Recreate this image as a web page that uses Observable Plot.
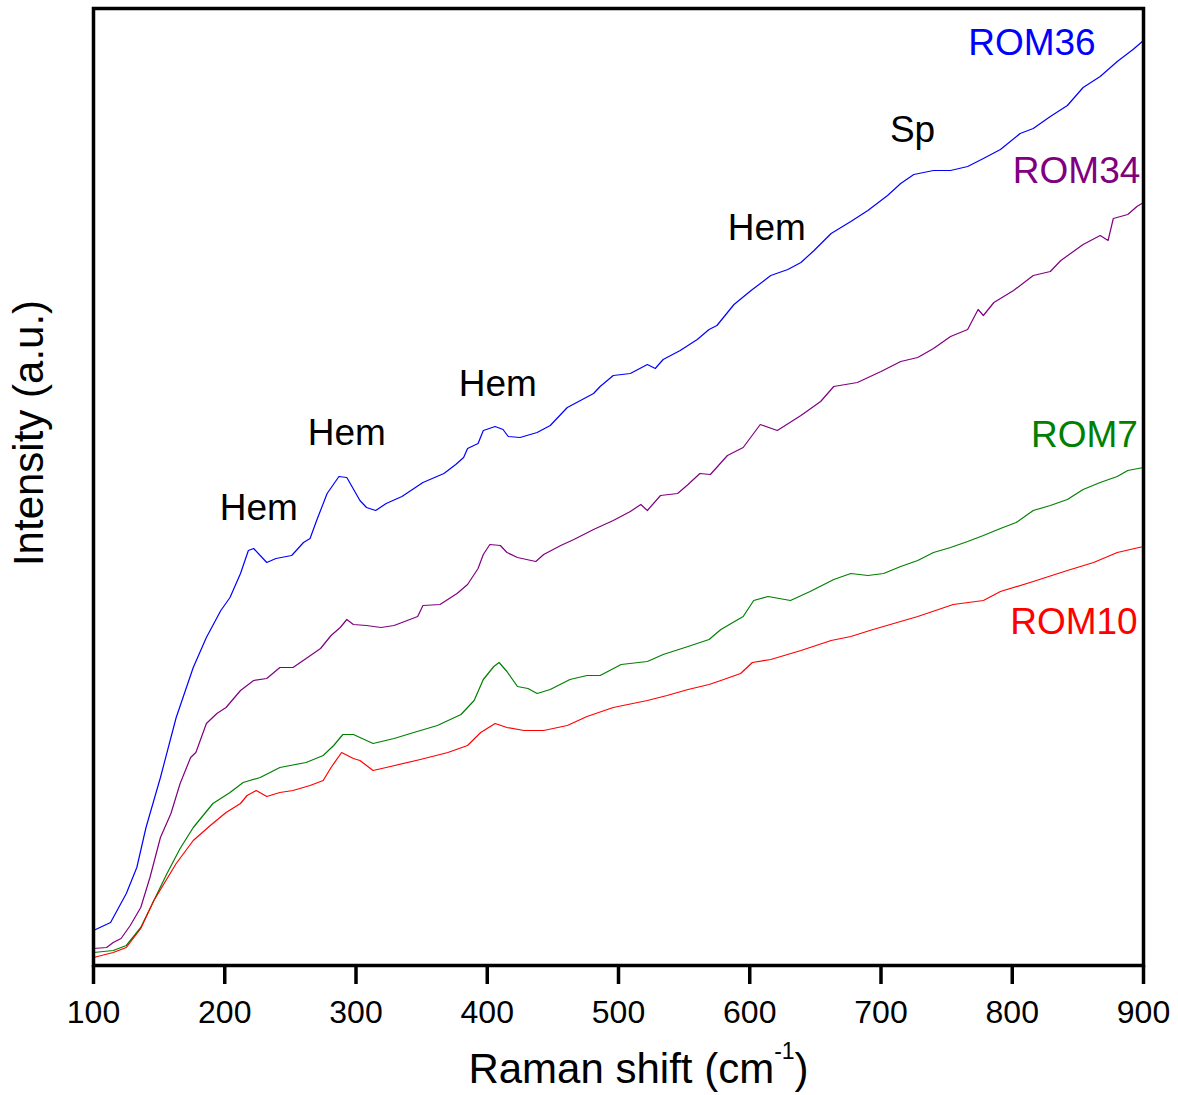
<!DOCTYPE html>
<html><head><meta charset="utf-8">
<script src="https://cdn.jsdelivr.net/npm/d3@7"></script>
<script src="https://cdn.jsdelivr.net/npm/@observablehq/plot@0.6"></script>
<style>
body{margin:0;background:#fff;}
svg{font-family:"Liberation Sans",Arial,sans-serif;}
</style>
</head><body><div id="chart"></div>
<script>
// Raman shift (cm-1), intensity (a.u.) pairs
const rom36 = [[100,35],[113,43],[125,72],[133,98],[140,138],[151,188],[163,248],[176,298],[186,328],[197,355],[204,368],[212,392],[218,415],[222,417],[232,403],[239,407],[251,410],[260,423],[265,427],[270,445],[278,472],[287,489],[293,488],[303,465],[308,458],[315,455],[323,462],[335,469],[351,483],[367,492],[376,501],[382,508],[385,517],[393,522],[397,535],[406,539],[412,536],[416,529],[425,528],[438,533],[448,540],[461,558],[471,565],[481,572],[486,579],[496,590],[509,592],[522,601],[528,597],[534,606],[547,615],[560,626],[569,636],[575,640],[588,661],[601,675],[616,690],[629,696],[639,703],[649,715],[662,732],[677,744],[690,755],[705,770],[715,782],[725,791],[740,795],[753,795],[766,799],[778,807],[791,816],[806,832],[816,837],[829,849],[842,860],[854,878],[867,889],[880,904],[892,916],[900,925]];
const rom34 = [[100,17],[110,18],[115,23],[121,27],[128,40],[136,58],[143,88],[151,128],[159,152],[166,182],[174,208],[178,213],[186,242],[194,252],[201,258],[212,275],[222,285],[232,287],[242,298],[252,298],[262,307],[273,317],[281,330],[288,338],[293,346],[298,341],[308,340],[319,338],[329,340],[347,349],[351,360],[364,361],[377,372],[385,381],[393,397],[397,411],[402,421],[410,420],[415,413],[423,408],[437,404],[443,411],[456,420],[466,426],[481,436],[496,445],[509,454],[517,461],[522,455],[532,470],[545,472],[553,481],[562,492],[570,491],[583,510],[595,518],[608,541],[621,535],[639,550],[654,564],[664,579],[682,583],[700,594],[715,604],[728,608],[740,617],[753,629],[766,636],[774,656],[778,650],[786,663],[801,675],[816,690],[829,694],[837,705],[854,721],[867,730],[873,725],[877,747],[888,751],[895,759],[900,763]];
const rom7 = [[100,13],[115,15],[125,20],[136,38],[146,65],[156,92],[166,117],[176,138],[191,162],[204,173],[214,183],[227,188],[242,198],[262,203],[275,210],[283,220],[290,231],[298,231],[313,222],[329,227],[344,233],[362,240],[380,251],[390,265],[397,286],[405,299],[409,303],[415,294],[423,279],[431,277],[438,272],[448,276],[463,286],[476,290],[486,290],[502,301],[522,304],[534,311],[553,319],[569,326],[578,336],[595,349],[603,365],[614,369],[631,365],[646,374],[664,386],[677,392],[690,390],[702,392],[715,399],[728,405],[740,413],[753,418],[766,424],[778,430],[791,437],[803,443],[816,455],[829,460],[842,466],[854,476],[867,483],[880,489],[888,495],[900,498]];
const rom10 = [[100,8],[115,13],[125,18],[136,37],[146,65],[163,102],[176,125],[189,140],[201,153],[212,162],[217,170],[224,175],[232,169],[242,173],[252,175],[265,180],[275,185],[281,198],[289,213],[298,207],[303,205],[313,195],[323,198],[349,206],[370,213],[385,220],[395,233],[406,242],[415,238],[428,235],[443,235],[461,240],[476,249],[496,258],[522,265],[537,270],[553,276],[569,281],[578,285],[593,292],[602,303],[616,306],[639,315],[662,325],[677,329],[694,336],[728,349],[755,361],[778,365],[791,374],[816,384],[842,395],[862,403],[880,413],[900,419]];

const seriesNames = ["ROM36","ROM34","ROM7","ROM10"];
const seriesColors = ["#0000ff","#800080","#008000","#ff0000"];
const xTicks = [100,200,300,400,500,600,700,800,900];

// label anchors in data units
const seriesLabels = [
  {name:"ROM36", x:815, y:922},
  {name:"ROM34", x:849, y:794},
  {name:"ROM7",  x:855, y:530},
  {name:"ROM10", x:847, y:343}
];
const peakLabels = [
  {text:"Hem", x:226, y:457},
  {text:"Hem", x:293, y:532},
  {text:"Hem", x:408, y:581},
  {text:"Hem", x:613, y:737},
  {text:"Sp",  x:724, y:835}
];

const allSeries = [rom36, rom34, rom7, rom10];
const rows = [];
allSeries.forEach((s, i) => s.forEach(([x, v]) => rows.push({series: seriesNames[i], x, v})));

const chart = Plot.plot({
  width: 1178, height: 1095,
  marginLeft: 93, marginRight: 35, marginTop: 8, marginBottom: 130,
  style: {fontFamily: "Liberation Sans, Arial, sans-serif", background: "#fff", overflow: "visible", color: "#000"},
  x: {domain: [100, 900], label: null},
  y: {domain: [0, 957], axis: null},
  color: {domain: seriesNames, range: seriesColors},
  marks: [
    Plot.line(rows, {x: "x", y: "v", z: "series", stroke: "series", strokeWidth: 1.2}),
    Plot.axisX({ticks: xTicks, tickSize: 19, tickPadding: 16, strokeWidth: 3.5, fontSize: 32, tickFormat: d => String(d), label: null}),
    Plot.frame({stroke: "#000", strokeWidth: 3.5}),
    Plot.text(seriesLabels, {x: "x", y: "y", text: "name", fill: "name", fontSize: 37}),
    Plot.text(peakLabels, {x: "x", y: "y", text: "text", fill: "#000", fontSize: 37}),
    Plot.text(["Intensity (a.u.)"], {frameAnchor: "left", textAnchor: "middle", rotate: -90, dx: -64, dy: -54, fontSize: 42, fill: "#000"}),
    Plot.text(["Raman shift (cm-1)"], {frameAnchor: "bottom", textAnchor: "middle", dx: 20, dy: 117, fontSize: 42, fill: "#000"})
  ]
});
document.getElementById("chart").appendChild(chart);

// superscript for cm-1
d3.select(chart).selectAll("text").filter(function(){ return this.textContent === "Raman shift (cm-1)"; })
  .each(function(){
    const t = d3.select(this);
    t.text(null);
    t.append("tspan").text("Raman shift (cm");
    t.append("tspan").attr("dy", -24).attr("font-size", 23).text("-1");
    t.append("tspan").attr("dy", 24).text(")");
  });
</script>
</body></html>
